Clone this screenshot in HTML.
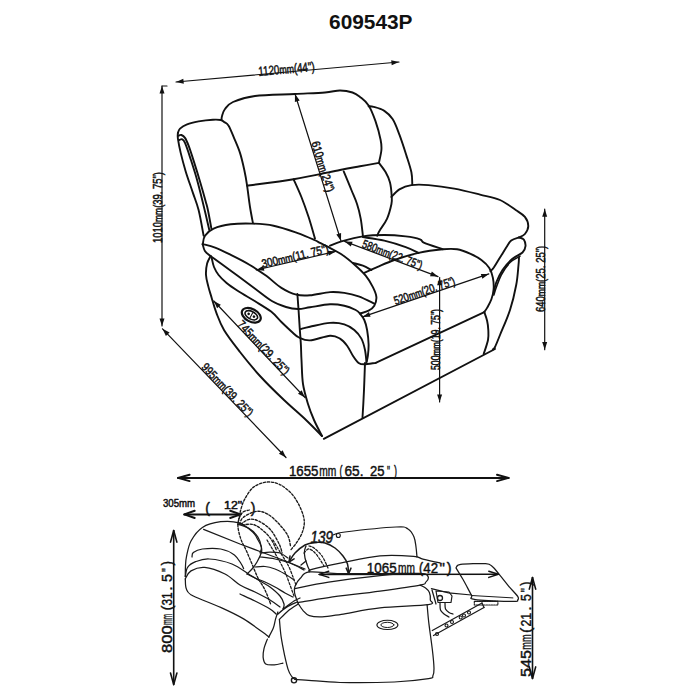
<!DOCTYPE html>
<html><head><meta charset="utf-8"><style>
html,body{margin:0;padding:0;background:#fff;width:700px;height:700px;overflow:hidden}
svg{display:block}
</style></head><body>
<svg width="700" height="700" viewBox="0 0 700 700" stroke-linecap="round" stroke-linejoin="round">
<rect width="700" height="700" fill="#fff"/>
<text x="370.8" y="29" font-family="&apos;Liberation Sans&apos;, sans-serif" font-size="20.2" font-weight="bold" text-anchor="middle" textLength="83.5" lengthAdjust="spacingAndGlyphs" fill="#111">609543P</text>
<path d="M177.9,132.9 C178.2,132.2 178.5,130 180,128.6 C181.5,127.2 184,125.5 187.1,124.3 C190.2,123.1 194.3,122.2 198.6,121.4 C202.9,120.6 209.2,119.9 212.9,119.7 C216.6,119.5 218.8,119.6 220.7,120 C222.6,120.4 223,121.1 224.3,122.1 C225.6,123 226.9,123 228.6,125.7 C230.3,128.4 232.4,134.1 234.3,138.6 C236.2,143.1 238.3,147.7 240,152.9 C241.7,158.1 243.1,164.5 244.3,170 C245.5,175.5 246.2,179.5 247.1,185.7 C248,191.9 249,200.8 250,207 C251,213.2 252.4,220.2 252.9,222.9" stroke="#111" stroke-width="1.9" fill="none"/>
<path d="M177.9,132.9 C177.9,133.8 177.4,135.3 177.9,138.6 C178.4,141.9 179.4,147.4 180.7,152.9 C182,158.4 183.7,164.7 185.7,171.4 C187.7,178.1 190.8,186.5 192.9,192.9 C195.1,199.3 196.8,202.9 198.6,210 C200.4,217.1 202.8,231.4 203.6,235.7" stroke="#111" stroke-width="1.9" fill="none"/>
<path d="M178.6,135.7 C179.1,135.6 180.3,134.6 181.4,135 C182.5,135.4 183.8,136.1 185,137.9 C186.2,139.7 187,141.5 188.6,145.7 C190.2,149.9 192.4,156.9 194.3,162.9 C196.2,168.9 198.1,175 200,181.4 C201.9,187.8 204.4,196.6 205.7,201.4 C207,206.2 206.9,205.5 207.9,210 C208.9,214.5 210.8,225.5 211.4,228.6" stroke="#111" stroke-width="1.9" fill="none"/>
<path d="M179.3,140 C179.8,139.9 181.2,138.8 182.1,139.3 C183,139.8 183.7,139.9 185,142.9 C186.3,145.9 188,150.9 190,157.1 C192,163.3 194.7,171.4 197.1,180 C199.5,188.6 202.3,200.3 204.3,208.6 C206.3,216.9 208.5,226.4 209.3,230" stroke="#111" stroke-width="1.9" fill="none"/>
<path d="M221.4,120 C221.5,119.3 221.5,117.5 222.1,115.7 C222.7,113.9 223.2,111.3 225,109 C226.8,106.7 228,104.2 233,102 C238,99.8 244.7,97.3 255,96 C265.3,94.7 283.3,94.6 295,94 C306.7,93.4 317.5,93.1 325,92.5 C332.5,91.9 335.4,90.5 340,90.5 C344.6,90.5 349.2,91.4 352.5,92.5 C355.8,93.6 357.3,94.8 360,96.9 C362.7,99.1 366,101.4 368.6,105.4 C371.2,109.4 373.4,115.2 375.4,120.9 C377.4,126.6 379.6,134.8 380.6,139.7 C381.6,144.5 381.7,146.1 381.4,150 C381.1,153.9 379.3,160.8 378.9,162.9" stroke="#111" stroke-width="1.9" fill="none"/>
<path d="M247.1,185.7 C254.8,184.6 278.1,181.9 293.6,179.3 C309.1,176.7 328.9,172.2 340,170 C351.1,167.8 353.5,167.5 360,166.3 C366.5,165.1 375.8,163.5 378.9,162.9" stroke="#111" stroke-width="1.9" fill="none"/>
<path d="M378.9,162.9 C380,164.5 383.8,169 385.7,172.3 C387.6,175.6 389,178.6 390,182.6 C391,186.6 391.5,192.7 391.7,196.3 C391.9,199.9 392.2,200.6 391.4,204.3 C390.6,208 389,214.3 387.1,218.6 C385.2,222.9 381.7,227.2 380,230 C378.3,232.8 377.6,234.8 377.1,235.7" stroke="#111" stroke-width="1.9" fill="none"/>
<path d="M293.6,179.3 C294.9,182.2 298.9,190.7 301.4,197 C303.9,203.3 306.3,210.1 308.6,217 C310.9,223.9 313.9,235 315,238.6" stroke="#111" stroke-width="1.9" fill="none"/>
<path d="M343.7,171.4 C345,174.5 349.2,184.5 351.4,190 C353.6,195.5 355.6,199.5 357.1,204.3 C358.7,209.1 359.7,213.4 360.7,218.6 C361.7,223.8 362.5,232.8 362.9,235.7" stroke="#111" stroke-width="1.9" fill="none"/>
<path d="M368.6,106.3 C369.5,106.4 371.1,106.1 373.7,106.8 C376.3,107.5 380.9,108.5 384,110.6 C387.1,112.6 390,115.1 392.6,119.1 C395.2,123.1 397.1,128.6 399.4,134.6 C401.7,140.6 404.3,148.8 406.3,155.1 C408.3,161.4 410.4,167.4 411.4,172.3 C412.4,177.2 412.1,182.3 412.3,184.3" stroke="#111" stroke-width="1.9" fill="none"/>
<path d="M391.4,197 C392.7,195.7 396.1,191.4 399.4,189.4 C402.7,187.4 406.5,185.8 411.4,185.1 C416.3,184.4 421.5,184.5 428.6,185.1 C435.8,185.7 445.7,187 454.3,188.6 C462.9,190.2 472.4,192.7 480,194.6 C487.6,196.5 494.1,197.4 500,200 C505.9,202.6 511.6,207.2 515.7,210 C519.9,212.8 522.8,214.2 524.9,216.9 C527,219.6 528.3,223.2 528.3,226 C528.3,228.8 526.4,232.1 524.9,234 C523.4,235.9 520.1,236.8 519.1,237.4" stroke="#111" stroke-width="1.9" fill="none"/>
<path d="M519.1,237.4 C517.8,237.9 513.4,238.8 511.2,240.5 C509.1,242.2 508.1,244.7 506.2,247.5 C504.4,250.3 502.1,254.2 500,257.5 C497.9,260.8 495.3,265.2 493.8,267.5 C492.2,269.8 491,270.6 490.5,271.2" stroke="#111" stroke-width="1.9" fill="none"/>
<path d="M519.1,237.4 C519.9,237.8 522.7,238 523.8,239.5 C524.8,241 525.7,244.1 525.5,246.2 C525.3,248.4 524.7,250.4 522.5,252.5 C520.3,254.6 515.8,255.8 512.5,258.8 C509.2,261.7 505.2,266 502.5,270 C499.8,274 497.7,278.8 496.2,282.5 C494.8,286.2 494.2,290.8 493.8,292.5" stroke="#111" stroke-width="1.9" fill="none"/>
<path d="M520,256.2 C518.3,257.3 513.1,259.4 510,262.5 C506.9,265.6 503.5,270.8 501.2,275 C499,279.2 497.5,284.2 496.2,287.5 C495,290.8 494.2,293.8 493.8,295" stroke="#111" stroke-width="1.6" fill="none"/>
<path d="M519,257.5 C518.9,258.8 519,260.4 518.5,265 C518,269.6 517.7,277.5 516.2,285 C514.8,292.5 512.7,301.7 510,310 C507.3,318.3 502.5,328.8 500,335 C497.5,341.2 496.2,344.6 495,347 C493.8,349.4 493.2,349 492.9,349.4" stroke="#111" stroke-width="1.9" fill="none"/>
<path d="M364.3,272.9 C366.4,271.9 372.1,269.2 377.1,267.1 C382.1,265 387.4,262.4 394.3,260 C401.2,257.6 410.5,254.7 418.6,252.9 C426.7,251.1 436.5,249.9 442.9,249.3 C449.3,248.7 452.6,248.6 457.1,249.3 C461.6,250 465.9,251.8 470,253.6 C474.1,255.4 478.2,257.6 481.4,260 C484.6,262.4 487.4,264.9 489.3,267.9 C491.2,270.9 492.2,274.3 492.9,277.9 C493.6,281.5 493.9,285.7 493.6,289.3 C493.4,292.9 492.5,296.2 491.4,299.3 C490.3,302.4 488.3,305.8 487.1,307.9 C485.9,310 484.8,311.4 484.3,312.1" stroke="#111" stroke-width="1.9" fill="none"/>
<path d="M484.3,312.1 C484.8,313.5 486.4,317.7 487.1,320.7 C487.8,323.7 488.2,326.8 488.3,330 C488.4,333.2 488.8,336 488,340 C487.2,344 484.4,351.7 483.7,354" stroke="#111" stroke-width="1.9" fill="none"/>
<path d="M375.7,362.9 L484.3,312.1" stroke="#111" stroke-width="1.9" fill="none"/>
<path d="M323.8,438.8 L495,349" stroke="#111" stroke-width="1.9" fill="none"/>
<path d="M330,245.7 C331.9,245 335.9,242.9 341.4,241.4 C346.9,239.9 355.8,237.5 362.9,236.4 C370,235.3 377.2,235 384.3,235 C391.4,235 399.8,235.7 405.7,236.4 C411.6,237.1 416.9,238.2 420,239.3 C423.1,240.4 420.5,241.2 424.3,242.9 C428.1,244.6 439.8,248.2 442.9,249.3" stroke="#111" stroke-width="1.9" fill="none"/>
<path d="M362.9,237.1 C366.5,237.7 377.2,239 384.3,240.7 C391.4,242.4 400,245.1 405.7,247.1 C411.4,249.1 416.5,251.9 418.6,252.9" stroke="#111" stroke-width="1.9" fill="none"/>
<path d="M352.9,262.9 C354.6,263.4 359.8,264.5 362.9,265.7 C366,266.9 370,269.3 371.4,270" stroke="#111" stroke-width="1.9" fill="none"/>
<path d="M202.9,243.6 C203.2,242.3 203.2,238.2 205,235.7 C206.8,233.2 209.3,230.5 213.6,228.6 C217.9,226.7 224.3,225.1 230.7,224.3 C237.1,223.5 244.8,223.4 252,223.6 C259.1,223.8 266.1,224.1 273.6,225.7 C281.1,227.2 290.2,230.5 297,232.9 C303.8,235.3 310.5,238.3 314.3,240 C318.1,241.7 317.9,241.8 320,242.9 C322.1,244 323.5,244.5 327.1,246.4 C330.7,248.3 336.6,251.1 341.4,254.3 C346.2,257.5 351.6,262.1 355.7,265.7 C359.8,269.3 362.8,272.1 365.7,275.7 C368.6,279.3 371.1,283.5 372.9,287.1 C374.7,290.7 376.2,294 376.4,297.1 C376.6,300.2 375.6,303.4 374.3,305.7 C373,308 371,309.4 368.6,310.7 C366.2,312 361.4,313.1 360,313.6" stroke="#111" stroke-width="1.9" fill="none"/>
<path d="M202.6,244.1 C204.7,244.7 210.1,245.7 215.1,247.6 C220.1,249.5 226.6,252.8 232.3,255.6 C238,258.4 243.7,261.3 249.4,264.7 C255.1,268.1 261.3,272.2 266.6,276.1 C271.9,280 276.4,284.8 281.4,287.9 C286.3,291 291.5,293.5 296.3,294.7 C301.1,295.9 304.4,295.7 310,295.3 C315.6,294.9 324.3,292.5 330,292.1 C335.7,291.7 339.5,292.2 344.3,292.9 C349.1,293.6 353.6,294.6 358.6,296.4 C363.6,298.2 371.7,302.4 374.3,303.6" stroke="#111" stroke-width="1.9" fill="none"/>
<path d="M202.6,244.1 C203,245.2 203.6,249 204.9,251 C206.2,253 209.7,255.3 210.6,256.1" stroke="#111" stroke-width="1.9" fill="none"/>
<path d="M210.6,256.1 C212.3,257.4 216.3,260.3 220.9,263.6 C225.5,266.9 232.3,271.9 238,276.1 C243.7,280.3 249.4,284.5 255.1,288.7 C260.8,292.9 267.2,298.2 272.3,301.3 C277.4,304.4 281.7,305.7 286,307 C290.3,308.3 294,308.9 298,309 C302,309.1 304.7,308.1 310,307.3 C315.3,306.5 324.3,304.6 330,304.3 C335.7,304 340,304.8 344.3,305.7 C348.6,306.6 353.1,308.7 355.7,310 C358.3,311.3 358.6,311.9 360,313.6 C361.4,315.3 363.1,317.3 364.3,320 C365.5,322.7 366.4,325.9 367.1,330 C367.8,334.1 368.5,340 368.6,344.3 C368.7,348.6 368.3,352.6 367.9,355.7 C367.5,358.8 366.6,361.7 366.4,362.9" stroke="#111" stroke-width="1.9" fill="none"/>
<path d="M211.7,257.9 C212.1,259.4 212.8,264.1 214,267 C215.2,269.9 216.5,272.3 218.6,275 C220.7,277.7 223.4,280.3 226.6,283 C229.8,285.7 233.2,287.9 238,291 C242.8,294.1 249.6,297.9 255.1,301.3 C260.6,304.7 266.7,308.2 271.1,311.6 C275.5,315.1 277.9,318.6 281.4,322 C284.9,325.4 289.1,329.4 292,332 C294.9,334.6 296,336.1 299,337.5 C302,338.9 304.8,340.7 310,340.4 C315.2,340.1 325,336 330,335.7 C335,335.4 337.1,336.9 340,338.6 C342.9,340.3 345,342.9 347.1,345.7 C349.2,348.5 351,352.8 352.9,355.7 C354.8,358.6 356.7,361.5 358.6,362.9 C360.5,364.3 361.5,364.3 364.3,364.3 C367.1,364.3 373.8,363.1 375.7,362.9" stroke="#111" stroke-width="1.9" fill="none"/>
<path d="M210.6,256.1 C210,257.4 207.9,260.5 207.1,263.6 C206.3,266.8 205.8,271.2 206,275 C206.2,278.8 207.4,282.6 208.3,286.4 C209.2,290.2 210.4,293.5 211.7,297.9 C213,302.3 214.2,307.3 216.3,312.7 C218.4,318.1 220.1,323.4 224,330 C227.9,336.6 234,344.3 240,352 C246,359.7 252.7,368 260,376 C267.3,384 276.3,392.7 284,400 C291.7,407.3 299.7,414 306,420 C312.3,426 319.3,433.3 322,436" stroke="#111" stroke-width="1.9" fill="none"/>
<path d="M297.4,294 C297.6,296.8 298.2,305.1 298.6,310.7 C299,316.3 299.3,322.2 299.7,327.9 C300.1,333.6 300.6,339.6 300.9,345 C301.2,350.4 301.1,353.5 301.5,360 C301.9,366.5 301.9,376.7 303,384 C304.1,391.3 306.2,398 308,404 C309.8,410 311.7,414.7 314,420 C316.3,425.3 320.7,433.3 322,436" stroke="#111" stroke-width="1.9" fill="none"/>
<path d="M300.9,329 C302.4,328.6 305.1,327.7 310,326.7 C314.9,325.7 324.3,323.3 330,322.9 C335.7,322.5 340.2,323.1 344.3,324.3 C348.4,325.5 351.5,327.6 354.3,330 C357.1,332.4 359.6,335.3 361.4,338.6 C363.2,341.9 364.2,346.2 365,350 C365.8,353.8 366.2,359.5 366.4,361.4" stroke="#111" stroke-width="1.9" fill="none"/>
<path d="M365,362.9 C364.8,367.4 364.4,380.9 364,390 C363.6,399.1 362.8,412.9 362.5,417.5" stroke="#111" stroke-width="1.9" fill="none"/>
<path d="M176,82 L399,62" stroke="#111" stroke-width="1.2" fill="none"/>
<path d="M391.7,65.2 L399,62 L391.2,60.2Z" fill="#111"/>
<path d="M183.3,78.8 L176,82 L183.8,83.8Z" fill="#111"/>
<text transform="translate(286.9,73.4) rotate(-5.1)" font-family="'Liberation Sans', sans-serif" font-size="13.1" font-weight="normal" font-style="normal" text-anchor="middle" textLength="56.3" lengthAdjust="spacingAndGlyphs" fill="#111" stroke="#111" stroke-width="0.5"><tspan font-size="13.1">1120</tspan><tspan font-size="11.8">mm</tspan><tspan font-size="13.1">(44")</tspan></text>
<path d="M162,326 L162,86" stroke="#111" stroke-width="1.2" fill="none"/>
<path d="M164.5,93.6 L162,86 L159.5,93.6Z" fill="#111"/>
<path d="M159.5,318.4 L162,326 L164.5,318.4Z" fill="#111"/>
<path d="M162,86 L167,86" stroke="#111" stroke-width="1.2" fill="none"/>
<text transform="translate(161.8,207.5) rotate(-90)" font-family="'Liberation Sans', sans-serif" font-size="12" font-weight="normal" font-style="normal" text-anchor="middle" textLength="70.8" lengthAdjust="spacingAndGlyphs" fill="#111" stroke="#111" stroke-width="0.5"><tspan font-size="12">1010</tspan><tspan font-size="10.8">mm</tspan><tspan font-size="12">(39. 75")</tspan></text>
<path d="M162.5,328.8 L286,457.5" stroke="#111" stroke-width="1.2" fill="none"/>
<path d="M278.9,453.8 L286,457.5 L282.6,450.3Z" fill="#111"/>
<path d="M169.6,332.5 L162.5,328.8 L165.9,336Z" fill="#111"/>
<text transform="translate(224.4,392.6) rotate(46.2)" font-family="'Liberation Sans', sans-serif" font-size="12" font-weight="normal" font-style="normal" text-anchor="middle" textLength="68.7" lengthAdjust="spacingAndGlyphs" fill="#111" stroke="#111" stroke-width="0.5"><tspan font-size="12">995</tspan><tspan font-size="10.8">mm</tspan><tspan font-size="12">(39. 25")</tspan></text>
<path d="M213.8,301 L305,397.5" stroke="#111" stroke-width="1.2" fill="none"/>
<path d="M298,393.7 L305,397.5 L301.6,390.3Z" fill="#111"/>
<path d="M220.8,304.8 L213.8,301 L217.1,308.2Z" fill="#111"/>
<text transform="translate(260.6,350.4) rotate(46.5)" font-family="'Liberation Sans', sans-serif" font-size="12" font-weight="normal" font-style="normal" text-anchor="middle" textLength="69.8" lengthAdjust="spacingAndGlyphs" fill="#111" stroke="#111" stroke-width="0.5"><tspan font-size="12">745</tspan><tspan font-size="10.8">mm</tspan><tspan font-size="12">(29. 25")</tspan></text>
<path d="M295,94 L341,241" stroke="#111" stroke-width="1.2" fill="none"/>
<path d="M336.3,234.5 L341,241 L341.1,233Z" fill="#111"/>
<path d="M299.7,100.5 L295,94 L294.9,102Z" fill="#111"/>
<text transform="translate(319,167.9) rotate(72.6)" font-family="'Liberation Sans', sans-serif" font-size="12" font-weight="normal" font-style="normal" text-anchor="middle" textLength="52.5" lengthAdjust="spacingAndGlyphs" fill="#111" stroke="#111" stroke-width="0.5"><tspan font-size="12">610</tspan><tspan font-size="10.8">mm</tspan><tspan font-size="12">(24")</tspan></text>
<path d="M344.6,241.4 L438,276.6" stroke="#111" stroke-width="1.2" fill="none"/>
<path d="M430,276.3 L438,276.6 L431.8,271.6Z" fill="#111"/>
<path d="M352.6,241.7 L344.6,241.4 L350.8,246.4Z" fill="#111"/>
<text transform="translate(391,258.3) rotate(20.6)" font-family="'Liberation Sans', sans-serif" font-size="12" font-weight="normal" font-style="normal" text-anchor="middle" textLength="63.4" lengthAdjust="spacingAndGlyphs" fill="#111" stroke="#111" stroke-width="0.5"><tspan font-size="12">580</tspan><tspan font-size="10.8">mm</tspan><tspan font-size="12">(22. 75")</tspan></text>
<path d="M256.4,270 L335.7,251.4" stroke="#111" stroke-width="1.2" fill="none"/>
<path d="M328.9,255.6 L335.7,251.4 L327.7,250.7Z" fill="#111"/>
<path d="M263.2,265.8 L256.4,270 L264.4,270.7Z" fill="#111"/>
<text transform="translate(296,260.2) rotate(-13.2)" font-family="'Liberation Sans', sans-serif" font-size="12" font-weight="normal" font-style="normal" text-anchor="middle" textLength="68.5" lengthAdjust="spacingAndGlyphs" fill="#111" stroke="#111" stroke-width="0.5"><tspan font-size="12">300</tspan><tspan font-size="10.8">mm</tspan><tspan font-size="12">(11. 75")</tspan></text>
<path d="M362.6,316.9 L488.8,273.9" stroke="#111" stroke-width="1.2" fill="none"/>
<path d="M482.4,278.7 L488.8,273.9 L480.8,274Z" fill="#111"/>
<path d="M369,312.1 L362.6,316.9 L370.6,316.8Z" fill="#111"/>
<text transform="translate(425.7,294.7) rotate(-18.8)" font-family="'Liberation Sans', sans-serif" font-size="12" font-weight="normal" font-style="normal" text-anchor="middle" textLength="63.9" lengthAdjust="spacingAndGlyphs" fill="#111" stroke="#111" stroke-width="0.5"><tspan font-size="12">520</tspan><tspan font-size="10.8">mm</tspan><tspan font-size="12">(20. 75")</tspan></text>
<path d="M439.6,277.6 L439.6,402" stroke="#111" stroke-width="1.2" fill="none"/>
<path d="M437.1,394.4 L439.6,402 L442.1,394.4Z" fill="#111"/>
<path d="M442.1,285.2 L439.6,277.6 L437.1,285.2Z" fill="#111"/>
<text transform="translate(439.6,339.5) rotate(-90)" font-family="'Liberation Sans', sans-serif" font-size="12" font-weight="normal" font-style="normal" text-anchor="middle" textLength="61" lengthAdjust="spacingAndGlyphs" fill="#111" stroke="#111" stroke-width="0.5"><tspan font-size="12">500</tspan><tspan font-size="10.8">mm</tspan><tspan font-size="12">(19. 75")</tspan></text>
<path d="M544.7,209.1 L544.7,349.7" stroke="#111" stroke-width="1.2" fill="none"/>
<path d="M542.2,342.1 L544.7,349.7 L547.2,342.1Z" fill="#111"/>
<path d="M547.2,216.7 L544.7,209.1 L542.2,216.7Z" fill="#111"/>
<text transform="translate(545.1,278.9) rotate(-90)" font-family="'Liberation Sans', sans-serif" font-size="12" font-weight="normal" font-style="normal" text-anchor="middle" textLength="66.3" lengthAdjust="spacingAndGlyphs" fill="#111" stroke="#111" stroke-width="0.5"><tspan font-size="12">640</tspan><tspan font-size="10.8">mm</tspan><tspan font-size="12">(25. 25")</tspan></text>
<g transform="translate(251.3,315.3) rotate(28)"><ellipse rx="10.2" ry="6.3" stroke="#111" stroke-width="2.2" fill="none"/><ellipse rx="6.8" ry="3.8" stroke="#111" stroke-width="1.6" fill="none"/><circle cx="-3" cy="0" r="1.3" fill="#111"/><circle cx="3" cy="0" r="1.3" fill="#111"/><path d="M0,-3 L0,3" stroke="#111" stroke-width="1"/></g>
<path d="M178,477.9 L508.6,477.9" stroke="#111" stroke-width="2.0" fill="none"/>
<path d="M497,481.1 L508.6,477.9 L497,474.7" stroke="#111" stroke-width="2.0" fill="none"/>
<path d="M189.6,474.7 L178,477.9 L189.6,481.1" stroke="#111" stroke-width="2.0" fill="none"/>
<g transform="translate(288.9,475.9) rotate(0)"><text x="0" y="0" font-family="'Liberation Sans', sans-serif" font-size="14.8" font-style="normal" textLength="29.5" lengthAdjust="spacingAndGlyphs" fill="#111" stroke="#111" stroke-width="0.45">1655</text><text x="30.4" y="0" font-family="'Liberation Sans', sans-serif" font-size="14.8" font-style="normal" textLength="17.1" lengthAdjust="spacingAndGlyphs" fill="#111" stroke="#111" stroke-width="0.45">mm</text><text x="50.6" y="0" font-family="'Liberation Sans', sans-serif" font-size="14.8" font-style="normal" textLength="3" lengthAdjust="spacingAndGlyphs" fill="#111" stroke="#111" stroke-width="0.45">(</text><text x="55.6" y="0" font-family="'Liberation Sans', sans-serif" font-size="14.8" font-style="normal" textLength="19" lengthAdjust="spacingAndGlyphs" fill="#111" stroke="#111" stroke-width="0.45">65.</text><text x="81.1" y="0" font-family="'Liberation Sans', sans-serif" font-size="14.8" font-style="normal" textLength="14.5" lengthAdjust="spacingAndGlyphs" fill="#111" stroke="#111" stroke-width="0.45">25</text><text x="98.1" y="0" font-family="'Liberation Sans', sans-serif" font-size="14.8" font-style="normal" textLength="3" lengthAdjust="spacingAndGlyphs" fill="#111" stroke="#111" stroke-width="0.45">"</text><text x="105.1" y="0" font-family="'Liberation Sans', sans-serif" font-size="14.8" font-style="normal" textLength="3" lengthAdjust="spacingAndGlyphs" fill="#111" stroke="#111" stroke-width="0.45">)</text></g>
<text transform="translate(179,507.4) rotate(0)" font-family="'Liberation Sans', sans-serif" font-size="11.2" font-weight="normal" font-style="normal" text-anchor="middle" textLength="32.2" lengthAdjust="spacingAndGlyphs" fill="#111" stroke="#111" stroke-width="0.5"><tspan font-size="11.2">305mm</tspan></text>
<text transform="translate(207.7,512.8) rotate(0)" font-family="'Liberation Sans', sans-serif" font-size="15.4" font-weight="normal" font-style="normal" text-anchor="middle" textLength="4.7" lengthAdjust="spacingAndGlyphs" fill="#111" stroke="#111" stroke-width="0.5"><tspan font-size="15.4">(</tspan></text>
<text transform="translate(233.1,508.9) rotate(0)" font-family="'Liberation Sans', sans-serif" font-size="11.2" font-weight="normal" font-style="normal" text-anchor="middle" textLength="18.1" lengthAdjust="spacingAndGlyphs" fill="#111" stroke="#111" stroke-width="0.5"><tspan font-size="11.2">12"</tspan></text>
<text transform="translate(253.2,512.8) rotate(0)" font-family="'Liberation Sans', sans-serif" font-size="15.4" font-weight="normal" font-style="normal" text-anchor="middle" textLength="4.7" lengthAdjust="spacingAndGlyphs" fill="#111" stroke="#111" stroke-width="0.5"><tspan font-size="15.4">)</tspan></text>
<path d="M184.3,514.4 L240.6,514.4" stroke="#111" stroke-width="2.0" fill="none"/>
<path d="M230.2,518 L240.6,514.4 L230.2,510.8" stroke="#111" stroke-width="2.0" fill="none"/>
<path d="M194.7,510.8 L184.3,514.4 L194.7,518" stroke="#111" stroke-width="2.0" fill="none"/>
<path d="M173.7,530.5 L173.7,684.6" stroke="#111" stroke-width="1.6" fill="none"/>
<path d="M170.5,673 L173.7,684.6 L176.9,673" stroke="#111" stroke-width="1.6" fill="none"/>
<path d="M176.9,542.1 L173.7,530.5 L170.5,542.1" stroke="#111" stroke-width="1.6" fill="none"/>
<g transform="translate(172.3,652.9) rotate(-90)"><text x="0" y="0" font-family="'Liberation Sans', sans-serif" font-size="15.1" font-style="normal" textLength="27.5" lengthAdjust="spacingAndGlyphs" fill="#111" stroke="#111" stroke-width="0.45">800</text><text x="27.8" y="0" font-family="'Liberation Sans', sans-serif" font-size="15.1" font-style="normal" textLength="11" lengthAdjust="spacingAndGlyphs" fill="#111" stroke="#111" stroke-width="0.45">mm</text><text x="42.3" y="0" font-family="'Liberation Sans', sans-serif" font-size="15.1" font-style="normal" textLength="5" lengthAdjust="spacingAndGlyphs" fill="#111" stroke="#111" stroke-width="0.45">(</text><text x="47.3" y="0" font-family="'Liberation Sans', sans-serif" font-size="15.1" font-style="normal" textLength="13.2" lengthAdjust="spacingAndGlyphs" fill="#111" stroke="#111" stroke-width="0.45">31</text><text x="62.5" y="0" font-family="'Liberation Sans', sans-serif" font-size="15.1" font-style="normal" textLength="4" lengthAdjust="spacingAndGlyphs" fill="#111" stroke="#111" stroke-width="0.45">.</text><text x="70.9" y="0" font-family="'Liberation Sans', sans-serif" font-size="15.1" font-style="normal" textLength="8" lengthAdjust="spacingAndGlyphs" fill="#111" stroke="#111" stroke-width="0.45">5</text><text x="80.8" y="0" font-family="'Liberation Sans', sans-serif" font-size="15.1" font-style="normal" textLength="3.7" lengthAdjust="spacingAndGlyphs" fill="#111" stroke="#111" stroke-width="0.45">"</text><text x="87.5" y="0" font-family="'Liberation Sans', sans-serif" font-size="15.1" font-style="normal" textLength="4.5" lengthAdjust="spacingAndGlyphs" fill="#111" stroke="#111" stroke-width="0.45">)</text></g>
<path d="M532.5,577.5 L532.5,678.5" stroke="#111" stroke-width="1.6" fill="none"/>
<path d="M529.3,666.9 L532.5,678.5 L535.7,666.9" stroke="#111" stroke-width="1.6" fill="none"/>
<path d="M535.7,589.1 L532.5,577.5 L529.3,589.1" stroke="#111" stroke-width="1.6" fill="none"/>
<g transform="translate(531,677) rotate(-90)"><text x="0" y="0" font-family="'Liberation Sans', sans-serif" font-size="14.8" font-style="normal" textLength="27.1" lengthAdjust="spacingAndGlyphs" fill="#111" stroke="#111" stroke-width="0.45">545</text><text x="27.3" y="0" font-family="'Liberation Sans', sans-serif" font-size="14.8" font-style="normal" textLength="15.4" lengthAdjust="spacingAndGlyphs" fill="#111" stroke="#111" stroke-width="0.45">mm</text><text x="44.1" y="0" font-family="'Liberation Sans', sans-serif" font-size="14.8" font-style="normal" textLength="5.4" lengthAdjust="spacingAndGlyphs" fill="#111" stroke="#111" stroke-width="0.45">(</text><text x="50.4" y="0" font-family="'Liberation Sans', sans-serif" font-size="14.8" font-style="normal" textLength="13.6" lengthAdjust="spacingAndGlyphs" fill="#111" stroke="#111" stroke-width="0.45">21</text><text x="66.5" y="0" font-family="'Liberation Sans', sans-serif" font-size="14.8" font-style="normal" textLength="4" lengthAdjust="spacingAndGlyphs" fill="#111" stroke="#111" stroke-width="0.45">.</text><text x="75.9" y="0" font-family="'Liberation Sans', sans-serif" font-size="14.8" font-style="normal" textLength="6.8" lengthAdjust="spacingAndGlyphs" fill="#111" stroke="#111" stroke-width="0.45">5</text><text x="84.8" y="0" font-family="'Liberation Sans', sans-serif" font-size="14.8" font-style="normal" textLength="4.2" lengthAdjust="spacingAndGlyphs" fill="#111" stroke="#111" stroke-width="0.45">"</text><text x="91.3" y="0" font-family="'Liberation Sans', sans-serif" font-size="14.8" font-style="normal" textLength="4" lengthAdjust="spacingAndGlyphs" fill="#111" stroke="#111" stroke-width="0.45">)</text></g>
<path d="M185.3,576.6 C185.3,574.8 185.3,569.2 185.5,566 C185.7,562.8 185.5,561.3 186.4,557.1 C187.3,552.9 188.3,546 191,541 C193.7,536 197.5,530.6 202.4,527.4 C207.3,524.2 214.6,522.5 220.7,521.7 C226.8,521 233.7,521.2 239,522.9 C244.3,524.6 249.5,529.1 252.7,532 C255.9,534.9 256.6,537.7 258,540 C259.4,542.3 260.4,544 261,546 C261.6,548 262.2,549.3 261.5,552 C260.8,554.7 258.6,559.2 257,562 C255.4,564.8 253.7,567 252,569 C250.3,571 247.8,573.2 247,574" stroke="#1a1a1a" stroke-width="1.25" fill="none"/>
<path d="M203.6,529.3 L240,544 L260,551.5 L288,562 L305,569" stroke="#1a1a1a" stroke-width="1.25" fill="none"/>
<path d="M192,557 C192.2,556.3 191.6,553.9 193.3,552.6 C195,551.3 197.8,549.6 202.4,549 C207,548.4 215.4,548 220.7,549 C226,550 231,552.4 234.4,554.9 C237.8,557.4 239.8,561.7 241.3,564 C242.8,566.3 243.2,567.8 243.6,568.6" stroke="#1a1a1a" stroke-width="1.25" fill="none"/>
<path d="M185.3,576.6 C185.7,575.1 185.9,569.9 187.6,567.4 C189.3,564.9 192,563.1 195.6,561.7 C199.2,560.3 203.2,558.6 209.3,559 C215.4,559.4 225.2,561.3 232,564 C238.8,566.7 245.3,572.2 250,575 C254.7,577.8 256.7,579 260,581 C263.3,583 266.7,584.5 270,587 C273.3,589.5 277.7,593.2 280,596 C282.3,598.8 283.5,601.8 284,604 C284.5,606.2 283.2,608.2 283,609" stroke="#1a1a1a" stroke-width="1.25" fill="none"/>
<path d="M185.3,578.9 C186.2,577.6 187.8,572.8 191,570.9 C194.2,569 199,566.9 204.7,567.4 C210.4,567.9 219.1,571.1 225,574 C230.9,576.9 235,582 240,585 C245,588 250,589.5 255,592 C260,594.5 265.8,597.5 270,600 C274.2,602.5 278.3,605.8 280,607" stroke="#1a1a1a" stroke-width="1.25" fill="none"/>
<path d="M185.3,578.9 C185.5,580.6 185.1,586.2 186.4,589.1 C187.7,592 187.6,593 193.3,596 C199,599 212.3,603.6 220.7,607.4 C229.1,611.2 236,614.3 243.6,618.9 C251.2,623.5 262.2,631.9 266.4,634.9 C270.6,637.9 268.3,636.7 268.7,637.1" stroke="#1a1a1a" stroke-width="1.25" fill="none"/>
<path d="M240,594 C242.5,595.2 250,598.5 255,601 C260,603.5 266.5,606.8 270,609 C273.5,611.2 275,613.2 276,614" stroke="#1a1a1a" stroke-width="1.25" fill="none"/>
<path d="M268.7,637.1 C269.5,635.6 272.1,631 273.3,628 C274.5,625 274.8,621.6 275.6,618.9 C276.4,616.2 277.5,613.1 277.9,612" stroke="#1a1a1a" stroke-width="1.25" fill="none"/>
<path d="M261,553 C262.5,552.8 266.8,552 270,552 C273.2,552 277,552 280,553 C283,554 286.7,557.2 288,558" stroke="#1a1a1a" stroke-width="1.25" fill="none"/>
<path d="M260,557 C262.5,557.3 270,558 275,559 C280,560 285.2,561.2 290,563 C294.8,564.8 301.7,568.8 304,570" stroke="#1a1a1a" stroke-width="1.25" fill="none"/>
<path d="M255,567 C256.7,566.9 261.7,566.2 265,566.5 C268.3,566.8 271.7,567.8 275,569 C278.3,570.2 281.8,572.2 285,574 C288.2,575.8 292.5,579 294,580" stroke="#1a1a1a" stroke-width="1.25" fill="none"/>
<path d="M247,574 C248.3,574.7 252,576.7 255,578 C258,579.3 261.7,580.5 265,582 C268.3,583.5 271.7,585.2 275,587 C278.3,588.8 282,591.3 285,593 C288,594.7 291.7,596.3 293,597" stroke="#1a1a1a" stroke-width="1.25" fill="none"/>
<path d="M283,609 C284.8,607.7 291.2,602.8 294,601 C296.8,599.2 299,598.5 300,598" stroke="#1a1a1a" stroke-width="1.25" fill="none"/>
<path d="M267.4,639.1 C266.8,640.7 264.7,645.6 264,648.6 C263.3,651.6 262.8,654.5 263.1,657.1 C263.4,659.7 263.8,662.7 265.7,664 C267.6,665.3 271.4,665 274.3,664.9 C277.2,664.8 281.5,663.4 282.9,663.1" stroke="#1a1a1a" stroke-width="1.25" fill="none"/>
<path d="M279.4,619.4 C279.7,622.3 280.2,630.6 281.1,636.6 C282,642.6 283.5,650 284.6,655.4 C285.8,660.8 286.9,665.7 288,669.1 C289.1,672.5 290.2,674.3 291.4,676 C292.5,677.7 294.3,678.8 294.9,679.4" stroke="#1a1a1a" stroke-width="1.25" fill="none"/>
<circle cx="294" cy="680.3" r="2.6" stroke="#1a1a1a" stroke-width="1.4" fill="none"/>
<path d="M277.7,614.3 C279.1,613.1 283.1,609.4 286.3,607.4 C289.5,605.4 294.9,603.1 296.6,602.3" stroke="#1a1a1a" stroke-width="1.25" fill="none"/>
<path d="M279.4,619.4 C280.8,618 284.9,613.5 288,610.9 C291.1,608.3 296.6,605.1 298.3,604" stroke="#1a1a1a" stroke-width="1.25" fill="none"/>
<path d="M237.9,524.3 C238.4,521.9 239.5,514.3 240.7,510 C241.9,505.7 242.8,502.4 245,498.6 C247.2,494.8 250,489.9 253.6,487.1 C257.2,484.4 262.1,482.6 266.4,482.1 C270.7,481.6 275,482.3 279.3,484.3 C283.6,486.3 288.5,490.2 292.1,494.3 C295.7,498.4 298.7,504.1 300.7,508.6 C302.7,513.1 304.1,517.4 304.3,521.4 C304.5,525.4 303.4,529.3 302.1,532.9 C300.8,536.5 298.3,540 296.4,542.9 C294.5,545.8 291.6,548.8 290.7,550" stroke="#1a1a1a" stroke-width="1.35" fill="none" stroke-dasharray="2.3,1.7"/>
<path d="M239.3,524.3 C240,523.1 240.8,519.2 243.6,517.1 C246.4,515 252.3,511.9 256.4,511.4 C260.4,510.9 264.1,512.1 267.9,514.3 C271.7,516.4 276,520.7 279.3,524.3 C282.6,527.9 286,531.9 287.9,535.7 C289.8,539.5 290.2,545.2 290.7,547.1" stroke="#1a1a1a" stroke-width="1.35" fill="none" stroke-dasharray="2.3,1.7"/>
<path d="M240.7,524.3 C242.1,523.5 246.2,519.8 249.3,519.3 C252.4,518.8 255.7,519.6 259.3,521.4 C262.9,523.2 267.4,526.2 270.7,530 C274,533.8 277.4,540.5 279.3,544.3 C281.2,548.1 281.6,551.5 282.1,552.9" stroke="#1a1a1a" stroke-width="1.35" fill="none" stroke-dasharray="2.3,1.7"/>
<path d="M242,525 C243.7,524.9 249,523.7 252.1,524.3 C255.2,524.9 257.6,526.2 260.7,528.6 C263.8,531 268.1,535 270.7,538.6 C273.3,542.2 275.4,548.1 276.4,550" stroke="#1a1a1a" stroke-width="1.35" fill="none" stroke-dasharray="2.3,1.7"/>
<path d="M249.3,510 C248.1,510.5 244,510.5 242.1,512.9 C240.2,515.3 238.1,520 237.9,524.3 C237.7,528.6 239.3,534.3 240.7,538.6 C242,542.9 244.1,545.8 246,550 C247.9,554.2 250,559.3 252,564 C254,568.7 255.8,573.7 258,578 C260.2,582.3 262.8,585.5 265,590 C267.2,594.5 270,602.5 271,605" stroke="#1a1a1a" stroke-width="1.35" fill="none" stroke-dasharray="2.3,1.7"/>
<path d="M267,540 C268,541.7 270.8,546.3 273,550 C275.2,553.7 278,558.3 280,562 C282,565.7 283.3,568.2 285,572 C286.7,575.8 288.5,581 290,585 C291.5,589 293.3,594.2 294,596" stroke="#1a1a1a" stroke-width="1.25" fill="none" stroke-dasharray="2.3,1.7"/>
<path d="M273,540 C274.2,542 277.5,547.8 280,552 C282.5,556.2 285.8,560.8 288,565 C290.2,569.2 291.7,573.7 293,577 C294.3,580.3 295.5,583.7 296,585" stroke="#1a1a1a" stroke-width="1.25" fill="none" stroke-dasharray="2.3,1.7"/>
<path d="M237.9,524.3 C239.8,525 246,526.5 249.3,528.6 C252.6,530.7 255.9,534 257.9,537.1 C259.9,540.2 261,544.5 261.4,547.1 C261.8,549.7 260.2,551.9 260,552.9" stroke="#1a1a1a" stroke-width="1.25" fill="none"/>
<path d="M289,562 C290,560.5 292.3,555.8 295,553 C297.7,550.2 301.7,546.8 305,545 C308.3,543.2 311.7,542.8 315,542.5 C318.3,542.2 321.7,542.1 325,543 C328.3,543.9 332,545.8 335,548 C338,550.2 340.9,553.3 343,556 C345.1,558.7 346.6,561.1 347.5,564 C348.4,566.9 348.4,572 348.6,573.6" stroke="#1a1a1a" stroke-width="1.5" fill="none"/>
<path d="M290,556.1 L289,562 L294.1,558.8" stroke="#1a1a1a" stroke-width="1.5" fill="none"/>
<path d="M346.2,568.1 L348.6,573.6 L351,568.1" stroke="#1a1a1a" stroke-width="1.5" fill="none"/>
<text transform="translate(321.8,542.8) rotate(0)" font-family="'Liberation Sans', sans-serif" font-size="16.1" font-weight="normal" font-style="italic" text-anchor="middle" textLength="22.5" lengthAdjust="spacingAndGlyphs" fill="#111" stroke="#111" stroke-width="0.5"><tspan font-size="16.1">139</tspan></text>
<circle cx="338.3" cy="535.5" r="2" stroke="#1a1a1a" stroke-width="1.1" fill="none"/>
<path d="M306,546 C305.8,546.8 304.7,549 304.5,551 C304.3,553 304.4,555.3 305,558 C305.6,560.7 307.2,564.8 308,567 C308.8,569.2 309.7,570.3 310,571" stroke="#1a1a1a" stroke-width="1.25" fill="none"/>
<path d="M304,553 C304.8,552.3 307,548.8 309,549 C311,549.2 313.5,551.2 316,554 C318.5,556.8 322.7,564 324,566" stroke="#1a1a1a" stroke-width="1.25" fill="none" stroke-dasharray="2.3,1.7"/>
<path d="M309,546 C309.8,546.3 311.8,546.3 314,548 C316.2,549.7 319.7,552.7 322,556 C324.3,559.3 327,566 328,568" stroke="#1a1a1a" stroke-width="1.25" fill="none" stroke-dasharray="2.3,1.7"/>
<path d="M301,565 L306,561" stroke="#1a1a1a" stroke-width="1.25" fill="none"/>
<path d="M333,535 C335,534.5 334.5,533.3 345,532 C355.5,530.7 385.5,527.5 396,527 C406.5,526.5 405,527.3 408,529 C411,530.7 412.7,534 414,537 C415.3,540 415.5,543.7 416,547 C416.5,550.3 416.8,555.3 417,557" stroke="#1a1a1a" stroke-width="1.25" fill="none"/>
<path d="M309.3,571.9 C309.7,571.5 306.5,570.8 311.9,569.3 C317.2,567.8 330,565.1 341.4,562.9 C352.8,560.6 368,556.9 380,555.8 C392,554.7 406.5,555.8 413.6,556.4 C420.8,557 418.5,558 422.9,559.1 C427.3,560.2 437.1,562.3 440,562.9" stroke="#1a1a1a" stroke-width="1.25" fill="none"/>
<path d="M319.2,574.4 L498.3,574.3" stroke="#111" stroke-width="1.5" fill="none"/>
<path d="M488.8,577.4 L498.3,574.3 L488.8,571.3" stroke="#111" stroke-width="1.5" fill="none"/>
<path d="M328.7,571.3 L319.2,574.4 L328.7,577.4" stroke="#111" stroke-width="1.5" fill="none"/>
<g transform="translate(366.8,572.6) rotate(0)"><text x="0" y="0" font-family="'Liberation Sans', sans-serif" font-size="15.1" font-style="normal" textLength="29.8" lengthAdjust="spacingAndGlyphs" fill="#111" stroke="#111" stroke-width="0.45">1065</text><text x="31.2" y="0" font-family="'Liberation Sans', sans-serif" font-size="15.1" font-style="normal" textLength="16.9" lengthAdjust="spacingAndGlyphs" fill="#111" stroke="#111" stroke-width="0.45">mm</text><text x="52.2" y="0" font-family="'Liberation Sans', sans-serif" font-size="15.1" font-style="normal" textLength="4.1" lengthAdjust="spacingAndGlyphs" fill="#111" stroke="#111" stroke-width="0.45">(</text><text x="56.5" y="0" font-family="'Liberation Sans', sans-serif" font-size="15.1" font-style="normal" textLength="14.7" lengthAdjust="spacingAndGlyphs" fill="#111" stroke="#111" stroke-width="0.45">42</text><text x="72.6" y="0" font-family="'Liberation Sans', sans-serif" font-size="15.1" font-style="normal" textLength="5.4" lengthAdjust="spacingAndGlyphs" fill="#111" stroke="#111" stroke-width="0.45">"</text><text x="80" y="0" font-family="'Liberation Sans', sans-serif" font-size="15.1" font-style="normal" textLength="4.8" lengthAdjust="spacingAndGlyphs" fill="#111" stroke="#111" stroke-width="0.45">)</text></g>
<path d="M297.7,602.7 C297.2,601 294.9,595.2 294.5,592.4 C294.1,589.6 294.1,588.4 295.1,586 C296.1,583.6 297.9,580.6 300.3,578.3 C302.7,575.9 302.7,572.7 309.3,571.9 C315.9,571.1 328.2,573.3 340,573.6 C351.8,573.9 367.5,573.5 380,573.5 C392.5,573.5 407.5,573.2 415,573.3 C422.5,573.3 422.8,573.1 425,573.8 C427.2,574.5 428.3,576.3 428.4,577.7 C428.5,579.1 427,581.2 425.6,582.4 C424.2,583.6 427.7,583.6 420.1,585.1 C412.5,586.6 395.2,589 380,591.1 C364.8,593.2 342.3,595.7 328.6,597.6 C314.9,599.5 302.9,601.9 297.7,602.7" stroke="#1a1a1a" stroke-width="1.25" fill="none"/>
<path d="M295.1,588.6 C300.7,587.5 314.5,584.2 328.6,582.1 C342.8,580 367.3,577.1 380,575.7 C392.7,574.3 400.8,573.9 405,573.5" stroke="#1a1a1a" stroke-width="1.25" fill="none"/>
<path d="M420.1,585.1 C421,585.6 424.1,586.8 425.6,588 C427.2,589.2 428.6,590.6 429.4,592.6 C430.2,594.6 430.5,598 430.3,600 C430.1,602 436.8,603.3 428.4,604.6 C420,605.9 394.5,606.3 380,607.9 C365.5,609.5 351,612.8 341.4,614.3 C331.8,615.8 327.5,616.7 322.1,616.9 C316.8,617.1 312.5,616.7 309.3,615.6 C306.1,614.5 304.8,612.5 302.9,610.4 C301,608.2 298.6,604 297.7,602.7" stroke="#1a1a1a" stroke-width="1.25" fill="none"/>
<path d="M427.1,604.7 C427.4,607.9 428,616.2 428.9,623.6 C429.8,631 431.4,641.8 432.3,649.3 C433.2,656.8 433.9,664.2 434,668.6 C434.1,673 433.8,674 432.9,675.7 C432,677.4 435,677.6 428.6,678.6 C422.2,679.6 409.1,681.4 394.3,682 C379.5,682.6 354.3,682.8 340,682.5 C325.7,682.2 316.1,680.8 308.6,680.3 C301.1,679.8 297.2,679.5 294.9,679.4" stroke="#1a1a1a" stroke-width="1.25" fill="none"/>
<ellipse cx="387.4" cy="624.9" rx="10.5" ry="4.6" stroke="#1a1a1a" stroke-width="1.1" fill="none"/>
<ellipse cx="387.4" cy="624.9" rx="6.5" ry="2.6" stroke="#1a1a1a" stroke-width="1.0" fill="none"/>
<path d="M456,567.9 C456.8,567.3 455.7,565.1 460.6,564.4 C465.6,563.7 480.4,563.3 485.7,563.7 C491,564.1 490.3,564.9 492.6,566.7 C494.9,568.5 496.7,571.5 499.4,574.7 C502.1,577.9 505.6,582.5 508.6,586.1 C511.7,589.7 516.2,594.1 517.7,596.4 C519.2,598.7 518.5,599.1 517.7,599.9 C516.9,600.7 520.1,601.5 512.9,601.4 C505.7,601.3 481.2,600.4 474.3,599.3 C467.4,598.2 473.3,598.3 471.4,595 C469.5,591.7 465.5,583.8 462.9,579.3 C460.3,574.8 457.1,569.8 456,567.9" stroke="#1a1a1a" stroke-width="1.25" fill="none"/>
<path d="M471.4,595.5 L512.9,597.9" stroke="#1a1a1a" stroke-width="1.0" fill="none"/>
<path d="M431.4,588.6 L448.6,592.9 L471.4,595" stroke="#1a1a1a" stroke-width="1.25" fill="none"/>
<rect x="474.3" y="601.4" width="23.6" height="3.6" stroke="#1a1a1a" stroke-width="1.1" fill="none" stroke-dasharray="1.5,1"/>
<path d="M432.3,630.5 L482,603" stroke="#1a1a1a" stroke-width="1.25" fill="none"/>
<path d="M433.5,635.5 L484,607.5" stroke="#1a1a1a" stroke-width="1.25" fill="none"/>
<path d="M482,603 L484,607.5" stroke="#1a1a1a" stroke-width="1.25" fill="none"/>
<circle cx="446.5" cy="625.5" r="1.5" stroke="#1a1a1a" stroke-width="1.1" fill="none"/>
<circle cx="452" cy="622" r="1.5" stroke="#1a1a1a" stroke-width="1.1" fill="none"/>
<circle cx="460.7" cy="617.5" r="1.5" stroke="#1a1a1a" stroke-width="1.1" fill="none"/>
<circle cx="464" cy="615.5" r="1.5" stroke="#1a1a1a" stroke-width="1.1" fill="none"/>
<circle cx="469" cy="612.5" r="1.5" stroke="#1a1a1a" stroke-width="1.1" fill="none"/>
<circle cx="437" cy="634" r="1.5" stroke="#1a1a1a" stroke-width="1.1" fill="none"/>
<circle cx="440" cy="598" r="2.5" stroke="#1a1a1a" stroke-width="1.3" fill="none"/>
<path d="M440,603 C440.1,604.2 439.8,608.2 440.5,610 C441.2,611.8 442.6,612.8 444,614 C445.4,615.2 448.2,616.5 449,617" stroke="#1a1a1a" stroke-width="1.25" fill="none"/>
<path d="M445,603 C445.1,604 444.8,607.4 445.5,609 C446.2,610.6 447.8,611.7 449,612.5 C450.2,613.3 452.3,613.8 453,614" stroke="#1a1a1a" stroke-width="1.25" fill="none"/>
<path d="M436,591 L449,592 L452,596 L451,602.5 L438,602.5 Z" stroke="#1a1a1a" stroke-width="1.2" fill="none"/>
<path d="M432,590 L436,604" stroke="#1a1a1a" stroke-width="1.25" fill="none"/>
</svg></body></html>
